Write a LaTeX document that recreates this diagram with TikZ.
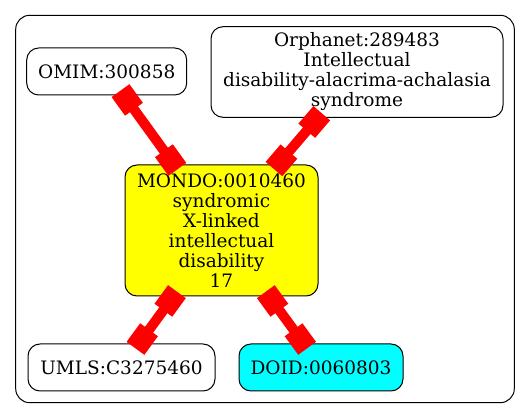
\documentclass[tikz,border=0pt]{standalone}
\usepackage{fontspec}
\setmainfont{DejaVu Serif}
\usetikzlibrary{arrows.meta}
\definecolor{termyellow}{RGB}{255,255,0}
\definecolor{termcyan}{RGB}{0,255,255}
\definecolor{linkred}{RGB}{255,0,0}
\tikzset{
  term/.style={draw, rounded corners=12pt, line width=1pt, align=center, inner sep=0pt,
    font=\fontsize{18.5}{20}\selectfont},
  link/.style={linkred, line width=10pt,
    {Square[length=23pt,width=22pt]}-{Square[length=23pt,width=22pt]},
    shorten <=-6pt, shorten >=-6pt}
}
\begin{document}
\begin{tikzpicture}[x=1pt,y=-1pt]
\useasboundingbox (0,0) rectangle (531,419);
\draw[rounded corners=14pt, line width=1pt] (15.7,15.3) rectangle (514.3,402.7);
\node[term, minimum width=160pt, minimum height=47pt] (omim) at (106.7,71.5) {OMIM:300858};
\node[term, minimum width=292pt, minimum height=90.6pt] (orpha) at (357,72) {Orphanet:289483\\Intellectual\\disability-alacrima-achalasia\\syndrome};
\node[term, fill=termyellow, minimum width=193pt, minimum height=131pt] (mondo) at (221.5,230.5) {MONDO:0010460\\syndromic\\X-linked\\intellectual\\disability\\17};
\node[term, minimum width=187pt, minimum height=47pt] (umls) at (121.5,367.5) {UMLS:C3275460};
\node[term, fill=termcyan, minimum width=164pt, minimum height=47pt] (doid) at (321,367.5) {DOID:0060803};
% links
\draw[link] (omim) -- (mondo);
\draw[link] (orpha) -- (mondo);
\draw[link] (mondo) -- (umls);
\draw[link] (mondo) -- (doid);
\end{tikzpicture}
\end{document}
